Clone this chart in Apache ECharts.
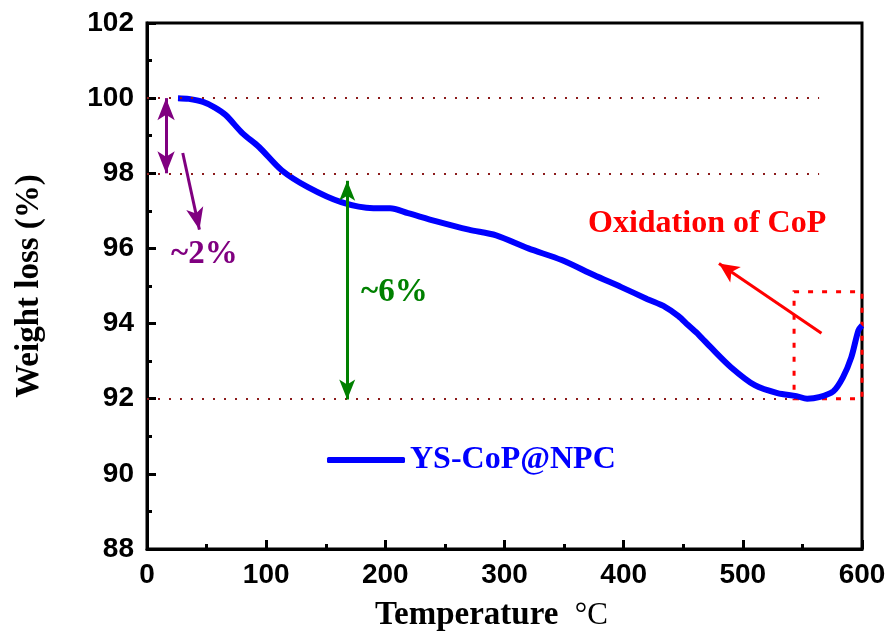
<!DOCTYPE html>
<html>
<head>
<meta charset="utf-8">
<script src="https://cdn.jsdelivr.net/npm/echarts@6/dist/echarts.min.js"></script>
<style>
  html, body { margin: 0; padding: 0; background: #fff; }
  #chart { width: 895px; height: 641px; }
</style>
</head>
<body>
<div id="chart"></div>
<script>
// TGA curve
var temps = [26, 35, 47, 57, 66, 80, 94, 113, 135, 163, 190, 204, 219, 243, 270, 293, 320, 348, 375, 398, 420, 435, 446, 454, 463, 473, 490, 510, 529, 545, 554, 564, 576, 584, 591, 597, 600];
var weights = [100.0, 99.98, 99.9, 99.75, 99.55, 99.07, 98.7, 98.08, 97.63, 97.23, 97.07, 97.07, 96.94, 96.72, 96.5, 96.35, 96.0, 95.69, 95.29, 94.97, 94.65, 94.44, 94.2, 93.96, 93.7, 93.37, 92.84, 92.36, 92.15, 92.07, 92.0, 92.04, 92.2, 92.57, 93.1, 93.82, 93.95];
var seriesName = 'YS-CoP@NPC';

// guide levels and annotation end points
var guideLevels = [100, 98, 92];
var guideEnds = [564, 564, 545];
var twoPctArrow = [[16, 100], [16, 98]];
var twoPctPointer = [[30, 98.54], [44, 96.5]];
var sixPctArrow = [[168, 97.8], [168, 91.98]];
var oxArrow = [[566, 93.74], [480, 95.6]];
var oxBox = [[543, 94.85], [600, 92.0]];

function start() {
  var chartDom = document.getElementById('chart');
  var myChart = echarts.init(chartDom);
  var option;

  var pts = temps.map(function (t, i) { return [t, weights[i]]; });

  var dotted = { color: '#8b1a1a', width: 2, type: [2, 9] };
  var lines = [];
  guideLevels.forEach(function (v, i) {
    lines.push([
      { coord: [0, v], symbol: 'none', lineStyle: dotted },
      { coord: [guideEnds[i], v], symbol: 'none' }
    ]);
  });
  lines.push([
    { coord: twoPctArrow[0], symbol: 'arrow', symbolSize: [13, 22], lineStyle: { color: '#800080', width: 3, type: 'solid' } },
    { coord: twoPctArrow[1], symbol: 'arrow', symbolSize: [13, 22] }
  ]);
  lines.push([
    { coord: twoPctPointer[0], symbol: 'none', lineStyle: { color: '#800080', width: 3, type: 'solid' } },
    { coord: twoPctPointer[1], symbol: 'arrow', symbolSize: [13, 22] }
  ]);
  lines.push([
    { coord: sixPctArrow[0], symbol: 'arrow', symbolSize: [12, 20], lineStyle: { color: '#008000', width: 3, type: 'solid' } },
    { coord: sixPctArrow[1], symbol: 'arrow', symbolSize: [12, 20] }
  ]);
  lines.push([
    { coord: oxArrow[0], symbol: 'none', lineStyle: { color: '#ff0000', width: 3, type: 'solid' } },
    { coord: oxArrow[1], symbol: 'arrow', symbolSize: [14, 20] }
  ]);

  var tickFont = { fontFamily: 'Liberation Sans', fontWeight: 'bold', fontSize: 28, color: '#000' };
  var nameFont = { fontFamily: 'Liberation Serif', fontWeight: 'bold', fontSize: 33, color: '#000' };

  option = {
    backgroundColor: '#fff',
    animation: false,
    grid: {
      left: 147, right: 33, top: 23, bottom: 92,
      containLabel: false,
      outerBoundsMode: 'none',
      show: true, borderColor: '#000', borderWidth: 3
    },
    legend: {
      data: [seriesName],
      left: 322, top: 439,
      icon: 'roundRect',
      itemWidth: 78, itemHeight: 6,
      itemGap: 10,
      textStyle: { color: '#0000ff', fontFamily: 'Liberation Serif', fontWeight: 'bold', fontSize: 32 }
    },
    xAxis: {
      type: 'value',
      min: 0, max: 600, interval: 100,
      name: '{a|Temperature}  {b|\u00b0C}',
      nameLocation: 'middle',
      nameGap: 50,
      nameTextStyle: Object.assign({
        padding: [0, 26, 0, 0],
        rich: {
          a: { fontFamily: 'Liberation Serif', fontWeight: 'bold', fontSize: 33, color: '#000' },
          b: { fontFamily: 'Liberation Serif', fontWeight: 'normal', fontSize: 31, color: '#000' }
        }
      }, nameFont),
      axisLine: { lineStyle: { color: '#000', width: 3 } },
      axisTick: { inside: true, length: 9, lineStyle: { width: 3, color: '#000' } },
      minorTick: { show: true, splitNumber: 2, length: 5, lineStyle: { width: 3, color: '#000' } },
      splitLine: { show: false },
      axisLabel: Object.assign({ margin: 12 }, tickFont)
    },
    yAxis: {
      type: 'value',
      min: 88, max: 102, interval: 2,
      name: 'Weight loss (%)',
      nameLocation: 'middle',
      nameGap: 101,
      nameTextStyle: nameFont,
      axisLine: { lineStyle: { color: '#000', width: 3 } },
      axisTick: { inside: true, length: 9, lineStyle: { width: 3, color: '#000' } },
      minorTick: { show: true, splitNumber: 2, length: 5, lineStyle: { width: 3, color: '#000' } },
      splitLine: { show: false },
      axisLabel: Object.assign({ margin: 13 }, tickFont)
    },
    series: [
      {
        name: seriesName,
        type: 'line',
        data: pts,
        smooth: 0.3,
        showSymbol: false,
        itemStyle: { color: '#0000ff' },
        lineStyle: { color: '#0000ff', width: 6 },
        z: 3,
        markLine: {
          silent: true,
          label: { show: false },
          data: lines
        },
        markArea: {
          silent: true,
          itemStyle: { color: 'rgba(0,0,0,0)', borderColor: '#ff0000', borderWidth: 3, borderType: [5, 9] },
          data: [[{ coord: oxBox[0] }, { coord: oxBox[1] }]]
        }
      }
    ],
    graphic: [
      {
        type: 'text', left: 588, top: 208,
        style: { text: 'Oxidation of CoP', fill: '#ff0000', font: 'bold 32px "Liberation Serif"' }
      },
      {
        type: 'text', left: 171, top: 238,
        style: { text: '~2%', fill: '#800080', font: 'bold 33px "Liberation Serif"' }
      },
      {
        type: 'text', left: 361, top: 276,
        style: { text: '~6%', fill: '#008000', font: 'bold 33px "Liberation Serif"' }
      }
    ]
  };

  option && myChart.setOption(option);
}

start();
</script>
</body>
</html>
